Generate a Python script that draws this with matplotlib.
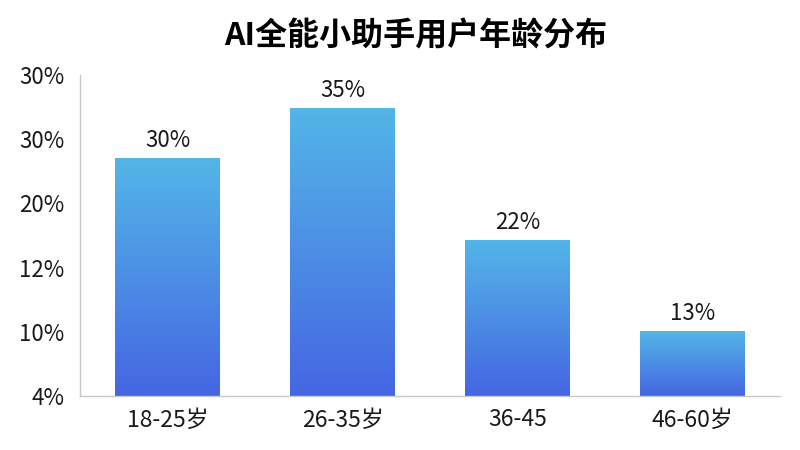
import matplotlib.pyplot as plt
import numpy as np
from matplotlib.colors import LinearSegmentedColormap

plt.rcParams['font.family'] = ['Noto Sans CJK SC', 'DejaVu Sans']

categories = ['18-25岁', '26-35岁', '36-45', '46-60岁']
shares = [30, 35, 22, 13]
bar_labels = ['30%', '35%', '22%', '13%']
ytick_labels = ['4%', '10%', '12%', '20%', '30%', '30%']

fig = plt.figure(figsize=(8, 4.5), dpi=100)
ax = fig.add_axes([0.10, 0.12, 0.875, 0.713])

ymin, ymax = 6.6, 38.2

# 渐变色柱子
cmap = LinearSegmentedColormap.from_list('grad', ['#4566e2', '#53b6e8'])
grad = np.linspace(0, 1, 256).reshape(-1, 1)
width = 0.6
x = np.arange(len(categories))
bars = ax.bar(x, shares, width=width, bottom=0, color='none', edgecolor='none')
for b in bars:
    x0 = b.get_x()
    im = ax.imshow(grad, cmap=cmap, origin='lower', aspect='auto',
                   extent=[x0, x0 + b.get_width(), ymin, b.get_height()], zorder=2)
    im.set_clip_path(b)
ax.set_xlim(-0.5, 3.5)
ax.set_ylim(ymin, ymax)

for xi, v, lab in zip(x, shares, bar_labels):
    ax.text(xi, v + 0.6, lab, ha='center', va='bottom', fontsize=16, color='#1a1a1a')

ax.set_xticks(x)
ax.set_xticklabels(categories, fontsize=16.5, color='#1a1a1a')
ax.set_yticks(np.linspace(ymin, ymax, 6))
ax.set_yticklabels(ytick_labels, fontsize=16, color='#1a1a1a')
ax.tick_params(axis='y', length=0, pad=11)
ax.tick_params(axis='x', length=0, pad=9)

for s in ['top', 'right']:
    ax.spines[s].set_visible(False)
for s in ['left', 'bottom']:
    ax.spines[s].set_color('#c8c8c8')
    ax.spines[s].set_linewidth(1)

fig.suptitle('AI全能小助手用户年龄分布', fontsize=23, fontweight='bold', y=0.955, x=0.52)

plt.savefig('out.png', dpi=100)
